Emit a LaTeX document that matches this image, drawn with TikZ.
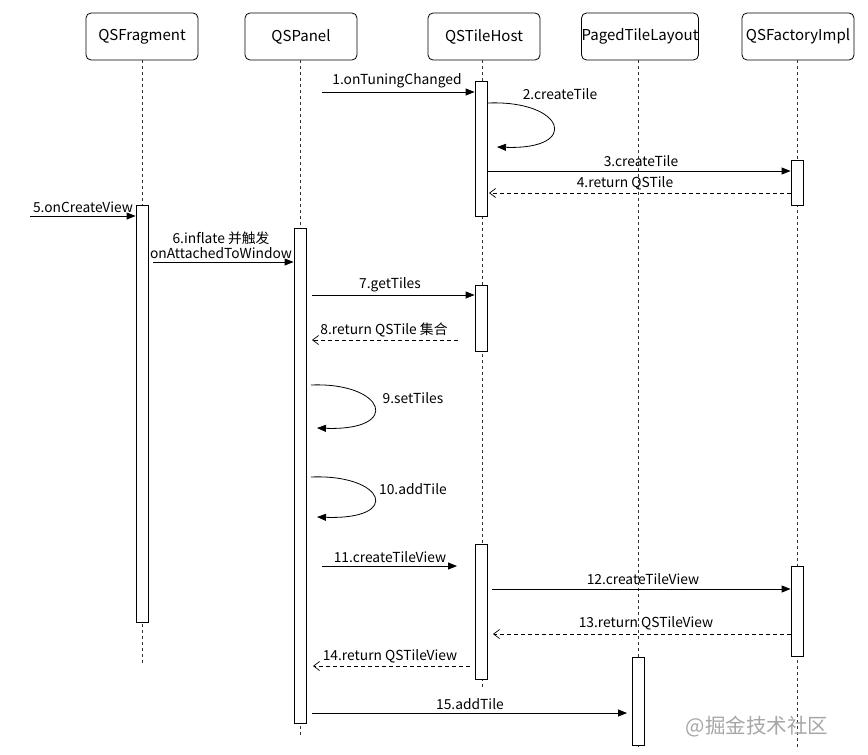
\documentclass[tikz,border=0pt]{standalone}
\usepackage{fontspec}
\setmainfont{Noto Sans CJK SC}
\usetikzlibrary{arrows.meta}
\begin{document}
\begin{tikzpicture}[x=1pt,y=-1pt,
  font=\fontsize{13.8}{15.5}\selectfont,
  head/.style={draw, rounded corners=5pt, minimum width=112pt, minimum height=47pt, line width=0.8pt, inner sep=0pt, font=\fontsize{15}{17}\selectfont},
  life/.style={draw, black!80, dash pattern=on 3pt off 3pt, line width=0.6pt},
  act/.style={draw, fill=white, line width=0.8pt, minimum width=12pt, inner sep=0pt},
  msg/.style={-{Triangle[length=9pt,width=7pt]}, line width=0.8pt},
  ret/.style={-{Straight Barb[length=6pt,width=9pt]}, dashed, dash pattern=on 4pt off 3pt, line width=0.7pt},
  lbl/.style={inner sep=0pt, anchor=south}
]
\useasboundingbox (0,0) rectangle (868,755);
% headers
\node[head] (hF) at (142,36.5) {QSFragment};
\node[head] (hP) at (301,36.5) {QSPanel};
\node[head] (hH) at (484,36.5) {QSTileHost};
\node[head] (hL) at (640,36.5) {PagedTileLayout};
\node[head] (hI) at (798,36.5) {QSFactoryImpl};
% lifelines
\coordinate (eF) at (142,665);
\coordinate (eP) at (300,735);
\coordinate (eH) at (482,690);
\coordinate (eL) at (638,750);
\coordinate (eI) at (797,750);
\draw[life] (hF.south -| eF) -- (eF);
\draw[life] (hP.south -| eP) -- (eP);
\draw[life] (hH.south -| eH) -- (eH);
\draw[life] (hL.south -| eL) -- (eL);
\draw[life] (hI.south -| eI) -- (eI);
% activations
\node[act, minimum height=135pt] (aH1) at (481,148.5) {};
\node[act, minimum height=45pt] (aI1) at (797,182.5) {};
\node[act, minimum height=417pt] (aF) at (142,413.5) {};
\node[act, minimum height=495pt] (aP) at (300,475.5) {};
\node[act, minimum height=66pt] (aH2) at (481,318) {};
\node[act, minimum height=135pt] (aH3) at (481,611.5) {};
\node[act, minimum height=90pt] (aI2) at (797,611) {};
\node[act, minimum height=88pt] (aL) at (638,701) {};
% message end points
\coordinate (m1s) at (322,92);  \coordinate (m1e) at (aH1.west |- 0,92);
\coordinate (m2s) at (488,103); \coordinate (m2e) at (497,147);
\coordinate (m3s) at (aH1.east |- 0,171); \coordinate (m3e) at (aI1.west |- 0,171);
\coordinate (m4s) at (aI1.west |- 0,193); \coordinate (m4e) at (489,193);
\coordinate (m5s) at (30,216);  \coordinate (m5e) at (aF.west |- 0,216);
\coordinate (m6s) at (153,262); \coordinate (m6e) at (aP.west |- 0,262);
\coordinate (m7s) at (312,295); \coordinate (m7e) at (aH2.west |- 0,295);
\coordinate (m8s) at (458,340); \coordinate (m8e) at (312,340);
\coordinate (m9s) at (311,385); \coordinate (m9e) at (317,428);
\coordinate (m10s) at (311,477); \coordinate (m10e) at (317,517);
\coordinate (m11s) at (322,566); \coordinate (m11e) at (457,566);
\coordinate (m12s) at (492,589); \coordinate (m12e) at (aI2.west |- 0,589);
\coordinate (m13s) at (aI2.west |- 0,634); \coordinate (m13e) at (493,634);
\coordinate (m14s) at (470,666); \coordinate (m14e) at (313,666);
\coordinate (m15s) at (312,713); \coordinate (m15e) at (627,713);
% messages
\draw[msg] (m1s) -- (m1e);
\node[lbl] (t1) at (397,88) {1.onTuningChanged};
\draw[msg] (m2s) .. controls (565,100) and (581,150) .. (m2e);
\node[lbl] (t2) at (560,100) {2.createTile};
\draw[msg] (m3s) -- (m3e);
\node[lbl] (t3) at (641,167) {3.createTile};
\draw[ret] (m4s) -- (m4e);
\node[lbl] (t4) at (625,190) {4.return QSTile};
\draw[msg] (m5s) -- (m5e);
\node[lbl] (t5) at (83,213) {5.onCreateView};
\draw[msg] (m6s) -- (m6e);
\node[lbl, align=center] (t6) at (221,259) {6.inflate 并触发\\onAttachedToWindow};
\draw[msg] (m7s) -- (m7e);
\node[lbl] (t7) at (390,292) {7.getTiles};
\draw[ret] (m8s) -- (m8e);
\node[lbl] (t8) at (384,337) {8.return QSTile 集合};
\draw[msg] (m9s) .. controls (385,382) and (403,431) .. (m9e);
\node[lbl] (t9) at (413,404) {9.setTiles};
\draw[msg] (m10s) .. controls (385,474) and (403,520) .. (m10e);
\node[lbl] (t10) at (413,495) {10.addTile};
\draw[msg] (m11s) -- (m11e);
\node[lbl] (t11) at (390,563) {11.createTileView};
\draw[msg] (m12s) -- (m12e);
\node[lbl] (t12) at (643,585) {12.createTileView};
\draw[ret] (m13s) -- (m13e);
\node[lbl] (t13) at (646,630) {13.return QSTileView};
\draw[ret] (m14s) -- (m14e);
\node[lbl] (t14) at (390,663) {14.return QSTileView};
\draw[msg] (m15s) -- (m15e);
\node[lbl] (t15) at (470,710) {15.addTile};
% watermark
\node[text=black!35, font=\fontsize{20.5}{23}\selectfont, inner sep=0pt] (wm) at (757,727) {@掘金技术社区};
\end{tikzpicture}
\end{document}
